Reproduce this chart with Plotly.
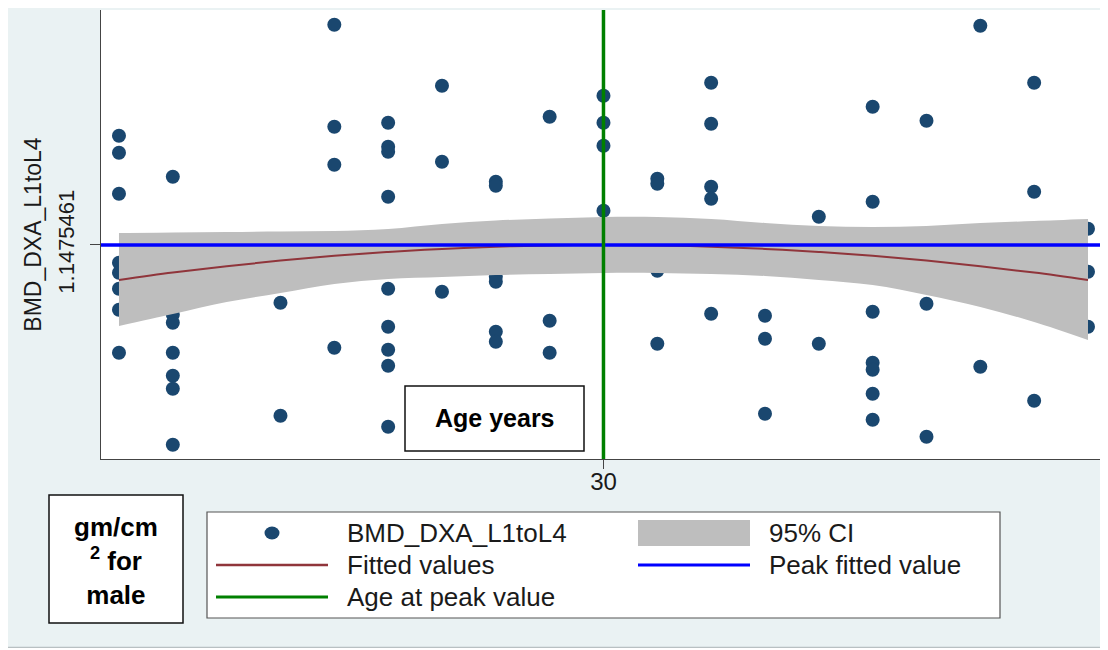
import plotly.graph_objects as go

# ---------------- data ----------------
point_age = [21, 21, 21, 21, 21, 21, 21, 21,
             22, 22, 22, 22, 22, 22, 22,
             24, 24,
             25, 25, 25, 25,
             26, 26, 26, 26, 26, 26, 26, 26, 26,
             27, 27, 27,
             28, 28, 28, 28, 28, 28,
             29, 29, 29,
             30, 30, 30, 30,
             31, 31, 31, 31,
             32, 32, 32, 32, 32,
             33, 33, 33,
             34, 34,
             35, 35, 35, 35, 35, 35, 35,
             36, 36, 36,
             37, 37,
             38, 38, 38,
             39, 39, 39]
point_bmd = [1.366, 1.332, 1.250, 1.112, 1.092, 1.060, 1.018, 0.932,
             1.284, 1.008, 0.992, 0.932, 0.886, 0.860, 0.748,
             1.032, 0.806,
             1.588, 1.384, 1.308, 0.942,
             1.392, 1.344, 1.334, 1.244, 1.060, 0.984, 0.938, 0.906, 0.784,
             1.466, 1.314, 1.054,
             1.274, 1.266, 1.084, 1.074, 0.974, 0.954,
             1.404, 0.996, 0.932,
             1.446, 1.392, 1.346, 1.216,
             1.280, 1.270, 1.096, 0.950,
             1.472, 1.390, 1.264, 1.240, 1.010,
             1.006, 0.960, 0.810,
             1.204, 0.950,
             1.424, 1.234, 1.014, 0.912, 0.898, 0.850, 0.798,
             1.396, 1.030, 0.764,
             1.586, 0.904,
             1.472, 1.254, 0.836,
             1.180, 1.094, 0.984]

fit_age = [21, 22, 23, 24, 25, 26, 27, 28, 29, 30, 31, 32, 33, 34, 35, 36, 37, 38, 39]
fit_bmd = [1.0775, 1.0923, 1.1051, 1.1163, 1.1259, 1.1337, 1.1397, 1.1441, 1.1467, 1.1475,
           1.1467, 1.1441, 1.1397, 1.1337, 1.1259, 1.1163, 1.1051, 1.0923, 1.0775]
ci_upper = [1.1715, 1.1725, 1.1735, 1.1745, 1.1755, 1.1795, 1.1895, 1.1965, 1.2005, 1.2035,
            1.2035, 1.1995, 1.1915, 1.1855, 1.1835, 1.1855, 1.1915, 1.1955, 1.1995]
ci_lower = [0.9855, 1.0095, 1.0335, 1.0515, 1.0695, 1.0795, 1.0835, 1.0875, 1.0895, 1.0915,
            1.0915, 1.0895, 1.0855, 1.0775, 1.0675, 1.0475, 1.0235, 0.9935, 0.9575]

peak_value = 1.1475461
peak_age = 30
x_ticks = [30]
x_tick_text = ["30"]
y_tick_text = ["1.1475461"]

legend_labels = ["BMD_DXA_L1toL4", "95% CI", "Fitted values", "Peak fitted value", "Age at peak value"]
y_title = "BMD_DXA_L1toL4"
x_note = "Age years"
unit_note = "gm/cm<br><sup>2</sup> for<br>male"

# ---------------- styles ----------------
NAVY = "#1A476F"
MAROON = "#90353B"
CI_GREY = "#BEBEBE"
BLUE = "#0000FF"
GREEN = "#008000"
OUTER = "#EAF2F3"
FONT = "Liberation Sans, Arial, sans-serif"
TXT = "#1a1a1a"

OFF = 8                      # page body margin
W, H = 1100, 640             # figure size
L, R, T, B = 93, 1097, 2, 451   # plot area in figure pixels


def px(x):
    """page x pixel -> paper coordinate"""
    return (x - OFF - L) / (R - L)


def py(y):
    """page y pixel -> paper coordinate"""
    return (B - (y - OFF)) / (B - T)


fig = go.Figure()

fig.add_trace(go.Scatter(x=point_age, y=point_bmd, mode="markers",
                         marker=dict(color=NAVY, size=14, line=dict(width=0)),
                         name=legend_labels[0], showlegend=False))
fig.add_trace(go.Scatter(x=fit_age, y=ci_upper, mode="lines",
                         line=dict(width=0, shape="spline", color=CI_GREY),
                         showlegend=False, hoverinfo="skip"))
fig.add_trace(go.Scatter(x=fit_age, y=ci_lower, mode="lines", fill="tonexty",
                         fillcolor=CI_GREY, line=dict(width=0, shape="spline", color=CI_GREY),
                         name=legend_labels[1], showlegend=False))
fig.add_trace(go.Scatter(x=fit_age, y=fit_bmd, mode="lines",
                         line=dict(width=2, shape="spline", color=MAROON),
                         name=legend_labels[2], showlegend=False))

fig.add_hline(y=peak_value, line=dict(color=BLUE, width=3.5))
fig.add_vline(x=peak_age, line=dict(color=GREEN, width=3.5))

shapes = []
# bottom border line of the graph region
shapes.append(dict(type="line", xref="paper", yref="paper", x0=px(8), x1=px(1108), y0=py(647.5), y1=py(647.5),
                   line=dict(color="#b8c0c2", width=1.5), layer="above"))

# "Age years" box
shapes.append(dict(type="rect", xref="paper", yref="paper", x0=px(405), x1=px(584), y0=py(451), y1=py(386),
                   fillcolor="white", line=dict(color="#111", width=1.5), layer="above"))
# unit box
shapes.append(dict(type="rect", xref="paper", yref="paper", x0=px(49), x1=px(183), y0=py(623), y1=py(495),
                   fillcolor="white", line=dict(color="#111", width=1.5), layer="above"))
# legend box
shapes.append(dict(type="rect", xref="paper", yref="paper", x0=px(207), x1=px(1000), y0=py(618), y1=py(512),
                   fillcolor="white", line=dict(color="#555", width=1.2), layer="above"))

rows = [533, 565, 597]
c1s, c1e, c1t = 216, 328, 345
c2s, c2e, c2t = 638, 750, 767
# legend keys
shapes.append(dict(type="circle", xref="paper", yref="paper", xsizemode="pixel", ysizemode="pixel",
                   xanchor=px((c1s + c1e) / 2), yanchor=py(rows[0]), x0=-7.5, x1=7.5, y0=-6.5, y1=6.5,
                   fillcolor=NAVY, line=dict(width=0), layer="above"))
shapes.append(dict(type="rect", xref="paper", yref="paper", x0=px(c2s), x1=px(c2e), y0=py(546), y1=py(520),
                   fillcolor=CI_GREY, line=dict(width=0), layer="above"))
shapes.append(dict(type="line", xref="paper", yref="paper", x0=px(c1s), x1=px(c1e), y0=py(rows[1]), y1=py(rows[1]),
                   line=dict(color=MAROON, width=2.5), layer="above"))
shapes.append(dict(type="line", xref="paper", yref="paper", x0=px(c2s), x1=px(c2e), y0=py(rows[1]), y1=py(rows[1]),
                   line=dict(color=BLUE, width=3), layer="above"))
shapes.append(dict(type="line", xref="paper", yref="paper", x0=px(c1s), x1=px(c1e), y0=py(rows[2]), y1=py(rows[2]),
                   line=dict(color=GREEN, width=3), layer="above"))

annotations = []
leg_pos = [(c1t, rows[0]), (c2t, rows[0]), (c1t, rows[1]), (c2t, rows[1]), (c1t, rows[2])]
for lab, (lx, ly) in zip(legend_labels, leg_pos):
    annotations.append(dict(text=lab, xref="paper", yref="paper", x=px(lx), y=py(ly),
                            xanchor="left", yanchor="middle", showarrow=False,
                            font=dict(family=FONT, size=26, color=TXT)))
annotations.append(dict(text="<b>" + x_note + "</b>", xref="paper", yref="paper", x=px(495), y=py(418),
                        xanchor="center", yanchor="middle", showarrow=False,
                        font=dict(family=FONT, size=25, color="#000")))
annotations.append(dict(text="<b>" + unit_note + "</b>", xref="paper", yref="paper", x=px(116), y=py(561),
                        xanchor="center", yanchor="middle", showarrow=False,
                        font=dict(family=FONT, size=26, color="#000")))

fig.update_layout(
    width=W, height=H,
    margin=dict(l=L, r=W - R, t=T, b=H - B, pad=0),
    paper_bgcolor=OUTER, plot_bgcolor="white",
    showlegend=False,
    shapes=list(fig.layout.shapes) + shapes,
    annotations=annotations,
    font=dict(family=FONT, color=TXT),
)
fig.update_xaxes(range=[20.666, 39.316], tickvals=x_ticks, ticktext=x_tick_text,
                 showgrid=False, zeroline=False, showline=True, linecolor="#444", linewidth=1,
                 ticks="outside", ticklen=9, tickcolor="#444", tickwidth=1,
                 ticklabelstandoff=-8,
                 tickfont=dict(family=FONT, size=24, color=TXT))
fig.update_yaxes(range=[0.7195, 1.6175], tickvals=[peak_value], ticktext=y_tick_text,
                 tickangle=-90, showgrid=False, zeroline=False, showline=True,
                 linecolor="#444", linewidth=1, ticks="outside", ticklen=10, tickcolor="#444",
                 tickwidth=1, tickfont=dict(family=FONT, size=22, color=TXT),
                 ticklabelstandoff=7,
                 title=dict(text=y_title, font=dict(family=FONT, size=23, color=TXT), standoff=6))

fig.write_html("out.html")
